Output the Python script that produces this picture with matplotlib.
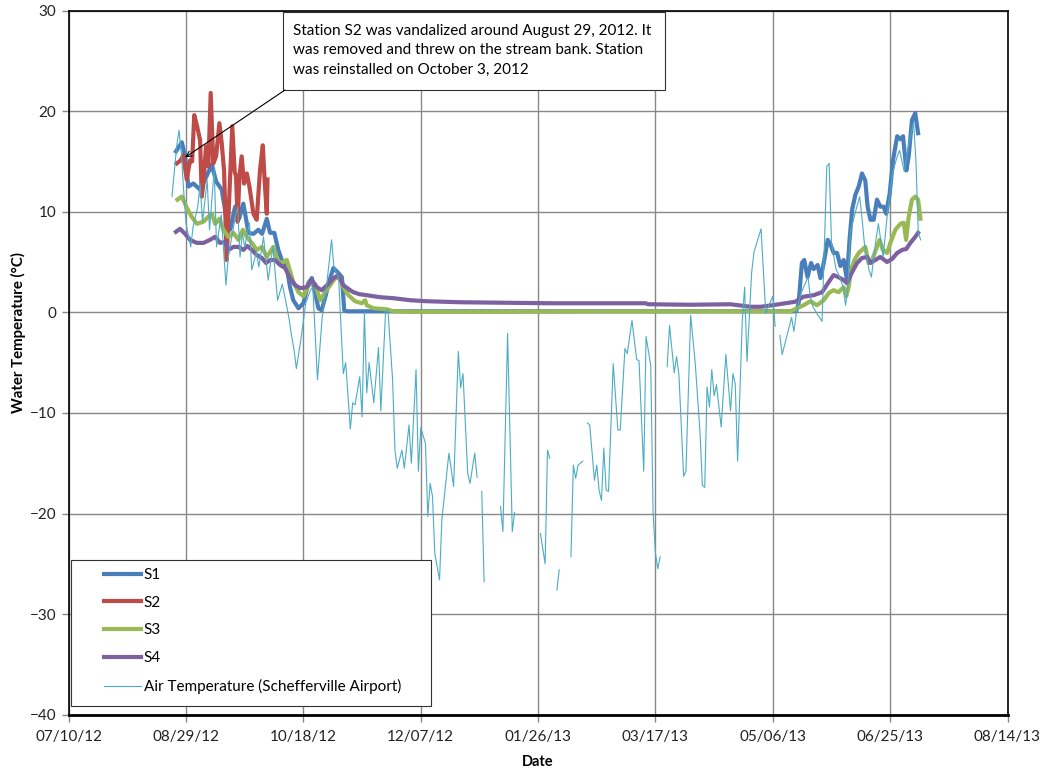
import numpy as np
import matplotlib
matplotlib.use('Agg')
import matplotlib.pyplot as plt
import matplotlib.dates as mdates
from matplotlib.patches import Rectangle

plt.rcParams['font.family'] = ['Lato', 'DejaVu Sans']

nan = np.nan

# all series use day numbers counted from 07/10/12
start = mdates.date2num(np.datetime64('2012-07-10'))

s1_day = [45.7, 48.2, 49.6, 51.0, 53.1, 56.0, 58.1, 61.0, 62.8, 65.2, 67.3, 68.8, 70.9,
          72.6, 74.4, 76.6, 78.7, 80.8, 82.4, 84.4, 85.8, 87.6, 89.3, 90.8, 92.9, 94.3,
          95.7, 97.9, 100.0, 102.1, 103.6, 105.0, 106.4, 107.8, 109.3, 111.4, 112.8,
          114.9, 116.4, 117.4, 118.5, 310.0, 311.0, 312.4, 313.4, 314.8, 316.3, 317.4,
          319.1, 320.3, 321.7, 323.4, 324.5, 325.9, 327.4, 328.8, 330.2, 331.6, 332.7,
          333.8, 335.2, 336.6, 338.0, 339.4, 340.4, 341.6, 343.0, 344.4, 345.8, 347.2,
          348.3, 349.8, 351.2, 353.0, 354.4, 355.5, 356.9, 357.9, 359.3, 360.7, 361.9]
s1_temp = [16.0, 16.9, 15.5, 12.5, 12.8, 12.2, 13.2, 14.7, 13.0, 12.2, 9.2, 8.2, 10.5,
           9.3, 10.8, 7.9, 7.8, 8.2, 7.8, 9.3, 7.9, 7.9, 6.2, 5.2, 4.5, 2.5,
           1.2, 0.4, 0.9, 2.9, 3.4, 1.9, 0.4, 0.2, 1.5, 3.4, 4.4,
           3.9, 3.5, 0.2, 0.1, 0.1, 0.9, 4.9, 5.2, 3.5, 4.9, 4.3,
           4.7, 3.4, 4.9, 7.2, 6.8, 5.9, 5.9, 4.6, 5.2, 3.2, 7.2,
           10.2, 11.7, 12.5, 13.8, 13.1, 10.5, 9.2, 9.2, 11.2, 10.5, 10.5,
           9.8, 11.8, 15.1, 17.5, 17.2, 17.5, 14.1, 15.5, 19.1, 19.8, 17.8]

s2_day = [46.0, 47.7, 48.8, 50.3, 51.7, 52.6, 53.5, 54.7, 56.0, 56.7, 57.4, 58.5, 59.5,
          60.5, 61.6, 62.8, 64.2, 65.2, 66.2, 67.3, 68.0, 69.7, 70.7, 71.3, 72.0, 72.7,
          73.7, 74.7, 75.9, 77.0, 78.7, 80.1, 81.5, 82.7, 83.5, 84.4, 84.7]
s2_temp = [14.8, 15.1, 15.6, 13.2, 15.1, 15.0, 19.6, 18.5, 17.1, 11.5, 12.8, 16.5, 14.5,
           21.8, 14.8, 15.5, 18.8, 16.8, 14.1, 5.2, 9.2, 18.5, 14.0, 13.5, 9.0, 13.4,
           15.5, 12.8, 13.8, 12.5, 9.8, 9.2, 14.1, 16.6, 13.0, 9.8, 13.2]

s3_day = [46.3, 48.2, 50.3, 52.4, 54.6, 57.4, 59.5, 61.0, 62.4, 64.2, 65.9, 68.0, 70.2,
          72.3, 74.2, 75.9, 78.0, 80.1, 82.3, 84.4, 87.2, 89.3, 91.5, 92.9, 95.7, 97.9,
          100.0, 102.9, 105.0, 107.1, 109.3, 111.4, 113.5, 115.6, 117.0, 119.2, 122.0,
          124.9, 126.3, 127.0, 129.8, 135.5, 138.4, 145.0, 307.5, 310.3, 313.1, 316.0,
          318.8, 321.7, 323.8, 325.9, 328.0, 330.2, 331.3, 332.3, 333.3, 334.8, 336.6,
          338.0, 339.4, 340.8, 342.3, 344.4, 345.5, 346.9, 348.7, 350.1, 352.2, 354.4,
          355.8, 356.8, 357.9, 359.3, 360.7, 361.9, 362.9]
s3_temp = [11.2, 11.5, 10.4, 9.5, 8.8, 9.0, 9.5, 9.8, 8.8, 9.3, 8.2, 7.5, 7.9,
           7.2, 8.2, 7.5, 6.9, 6.2, 6.5, 5.5, 6.5, 4.9, 5.0, 5.2, 3.0, 2.0,
           1.6, 3.0, 2.8, 1.2, 2.0, 2.7, 3.4, 3.4, 2.5, 1.7, 1.1,
           0.9, 1.2, 0.7, 0.4, 0.3, 0.1, 0.05, 0.1, 0.4, 0.7, 1.1,
           0.7, 1.2, 1.9, 2.2, 2.0, 2.5, 1.6, 2.5, 4.2, 5.2, 5.9,
           6.2, 6.5, 4.9, 5.2, 6.5, 7.2, 6.2, 5.9, 6.9, 8.2, 8.8,
           8.9, 7.2, 9.5, 11.2, 11.5, 11.2, 9.3]

s4_day = [45.7, 47.4, 49.6, 51.7, 54.6, 57.4, 60.2, 62.4, 64.5, 66.6, 68.0, 70.2, 72.3,
          74.4, 76.1, 78.0, 80.1, 82.3, 84.1, 85.8, 87.9, 90.1, 92.2, 94.3, 96.5, 98.6,
          101.4, 103.6, 105.7, 107.8, 110.1, 112.8, 114.9, 117.0, 119.9, 121.3, 123.9,
          127.0, 132.7, 138.4, 145.5, 152.6, 159.7, 166.8, 205.2, 245.7, 247.0, 265.0,
          282.0, 290.5, 294.8, 299.8, 309.6, 313.1, 317.4, 321.0, 323.8, 325.9, 327.9,
          330.2, 331.6, 333.8, 335.9, 338.0, 340.2, 341.6, 343.7, 345.8, 348.7, 350.8,
          353.0, 355.1, 356.9, 358.6, 360.7, 361.9]
s4_temp = [8.0, 8.3, 7.8, 7.2, 6.9, 6.9, 7.2, 7.5, 6.9, 7.0, 6.2, 6.5, 6.5,
           6.2, 6.6, 6.2, 5.7, 5.4, 4.9, 5.2, 5.2, 4.7, 4.4, 3.4, 2.7, 2.4,
           2.5, 3.2, 2.5, 2.2, 2.7, 3.4, 3.7, 2.7, 2.2, 2.0, 1.8,
           1.7, 1.5, 1.4, 1.2, 1.1, 1.05, 1.0, 0.9, 0.9, 0.8, 0.75,
           0.8, 0.55, 0.55, 0.7, 1.05, 1.55, 1.7, 2.0, 3.0, 3.7, 3.5,
           3.2, 2.9, 4.0, 4.9, 5.4, 5.5, 4.9, 5.2, 5.5, 5.0, 5.3,
           5.9, 6.2, 6.3, 6.9, 7.5, 7.9]

# daily air temperature, nan where the airport record has holes
air_day = [44, 46, 47, 48, 49, 50, 52, 53, 55, 56,
           57, 59, 60, 62, 63, 65, 66, 67, 68, 70,
           71, 72, 73, 74, 75, 77, 78, 80, 81, 83,
           85, 87, 89, 91, 93, 94, 95, 96, 97, 99,
           101, 103, 104, 106, 108, 110, 112, 113, 115, 117,
           118, 120, 121, 122, 124, 125, 126, 127, 128, 130,
           132, 133, 135, 136, 138, 139, 140, 142, 143, 145,
           146, 148, 149, 150, 152, 153, 154, 155, 156, 158,
           159, 162, 164, 166, 167, 168, 170, 171, 173, 174,
           175, 176, 177, 178, 184, 185, 187, 189, 190, 191,
           201, 203, 204, 205, 206, 208, 209, 210, 214, 215,
           216, 217, 219, 220, 221, 222, 224, 225, 226, 227,
           228, 229, 230, 232, 234, 235, 237, 238, 240, 242,
           243, 245, 246, 248, 249, 250, 251, 252, 253, 255,
           256, 258, 259, 260, 262, 263, 265, 267, 269, 270,
           271, 272, 273, 274, 275, 276, 278, 280, 282, 283,
           284, 285, 287, 288, 289, 291, 292, 295, 297, 298,
           300, 301, 302, 303, 304, 307, 308, 309, 310, 312,
           315, 316, 317, 319, 321, 323, 324, 325, 327, 328,
           330, 331, 332, 333, 335, 337, 338, 339, 341, 342,
           344, 345, 347, 349, 351, 353, 354, 356, 358, 360,
           361, 362, 363]
air_temp = [11.5, 16.5, 18.1, 15.8, 12.0, 8.8, 6.5, 8.5, 10.5, 12.8,
            9.0, 13.1, 8.2, 14.2, 6.5, 9.7, 6.2, 2.7, 5.5, 8.2,
            9.5, 10.5, 5.5, 7.9, 6.5, 8.9, 4.2, 6.0, 4.5, 7.5,
            3.2, 6.5, 1.2, 2.8, 0.5, -0.8, -2.4, -3.7, -5.6, -2.6,
            0.9, 2.2, 2.5, -6.7, -0.5, 2.9, 7.2, 4.5, 3.5, -6.1,
            -5.0, -11.6, -9.0, -9.2, -6.4, -10.4, 0.0, -8.0, -5.0, -9.0,
            -3.5, -9.8, 0.0, 0.3, -6.7, -13.7, -15.5, -13.7, -15.5, -11.2,
            -15.0, -5.7, -15.8, -11.5, -13.0, -20.3, -17.0, -18.3, -24.0, -26.6,
            -20.6, -14.0, -17.3, -3.9, -7.5, -6.1, -16.0, -17.0, -14.0, -16.4,
            nan, -17.8, -26.8, nan, -19.3, -21.8, -2.1, -21.8, -19.9, nan,
            -22.0, -25.0, -13.7, -14.5, nan, -27.6, -25.6, nan, -24.3, -15.2,
            -16.5, -15.2, -14.8, nan, -11.0, -11.2, -16.7, -15.2, -17.7, -18.7,
            -13.5, -17.7, -17.8, -5.1, -11.7, -11.7, -3.6, -4.1, -0.8, -4.7,
            -4.8, -15.8, -2.4, -5.3, -20.0, -24.0, -25.5, -24.3, nan, -5.4,
            -1.3, -6.0, -4.4, -6.2, -16.3, -15.8, -0.3, -5.2, -12.0, -17.2,
            -17.4, -7.4, -9.4, -5.7, -8.3, -7.2, -11.4, -4.2, -9.8, -6.1,
            -7.1, -14.8, -0.8, 2.5, -4.9, 4.0, 6.0, 8.3, -0.1, 0.5,
            1.6, -1.4, nan, -2.3, -4.2, -1.4, -0.5, -1.9, -0.1, 1.9,
            3.5, 1.5, 0.6, -0.2, -0.9, 14.5, 14.8, 6.9, 4.2, 3.8,
            2.5, 0.7, 2.5, 7.9, 9.8, 11.5, 9.4, 6.9, 4.2, 3.5,
            7.3, 8.8, 5.5, 10.2, 13.8, 15.5, 16.1, 14.0, 16.8, 18.8,
            15.0, 7.9, 7.2]

tick_days = [0, 50, 100, 150, 200, 250, 300, 350, 400]
y_ticks = [-40, -30, -20, -10, 0, 10, 20, 30]

note = ("Station S2 was vandalized around August 29, 2012. It\n"
        "was removed and threw on the stream bank. Station\n"
        "was reinstalled on October 3, 2012")

W, H = 1044, 769
fig = plt.figure(figsize=(W / 100, H / 100), dpi=100)
ax = fig.add_axes([68.7 / W, 1 - 714.7 / H, (1007.5 - 68.7) / W, (714.7 - 10.5) / H])

series = [
    (s1_day, s1_temp, 'S1', '#4A7EBB', 3.0),
    (s2_day, s2_temp, 'S2', '#BE4B48', 3.0),
    (s3_day, s3_temp, 'S3', '#98B954', 3.0),
    (s4_day, s4_temp, 'S4', '#7D60A0', 3.0),
    (air_day, air_temp, 'Air Temperature (Schefferville Airport)', '#4BACC6', 0.8),
]
for day, temp, label, color, lw in series:
    ax.plot(start + np.array(day, dtype=float), temp, color=color, lw=lw,
            label=label, solid_joinstyle='round', zorder=3)

ax.set_xlim(start + tick_days[0], start + tick_days[-1])
ax.set_ylim(-40, 30)
ax.set_xticks([start + d for d in tick_days])
ax.xaxis.set_major_formatter(mdates.DateFormatter('%m/%d/%y'))
ax.set_yticks(y_ticks)
ax.grid(True, color='#888888', lw=1.0, zorder=0)
ax.tick_params(axis='both', direction='out', length=5, width=1, color='#888888',
               labelsize=11, labelcolor='#222222', pad=4)
ax.tick_params(axis='x', pad=6)
for side in ['top', 'right', 'left']:
    ax.spines[side].set_color('black')
    ax.spines[side].set_linewidth(1.2)
ax.spines['bottom'].set_color('black')
ax.spines['bottom'].set_linewidth(2.0)

ax.set_xlabel('Date', fontsize=10.5, fontweight='bold', labelpad=8)
ax.set_ylabel('Water Temperature (°C)', fontsize=10.8, fontweight='bold')
ax.yaxis.set_label_coords(-0.046, 0.542)

# note about the vandalized station, arrow pointing at the S2 trace
note_box = Rectangle((283 / W, 1 - 90 / H), (665 - 283) / W, (90 - 12) / H,
                     transform=fig.transFigure, fc='white', ec='#333333', lw=0.8,
                     zorder=6, clip_on=False)
ax.add_patch(note_box)
ax.text(293 / W, 1 - 24 / H, note, transform=fig.transFigure, ha='left', va='top',
        fontsize=11, linespacing=1.5, zorder=7)
ax.annotate('', xy=(start + 49.6, 15.4), xycoords='data',
            xytext=(285 / W, 1 - 90 / H), textcoords='figure fraction',
            arrowprops=dict(arrowstyle='->', color='black', lw=0.8,
                            shrinkA=0, shrinkB=0),
            zorder=6)

# legend box in the lower left corner
box = Rectangle((71 / W, 1 - 706 / H), (431 - 71) / W, (706 - 560) / H,
                transform=fig.transFigure, fc='white', ec='#333333', lw=0.8,
                zorder=5, clip_on=False)
ax.add_patch(box)
leg = ax.legend(loc='upper left', bbox_to_anchor=(104 / W, 1 - 568 / H),
                bbox_transform=fig.transFigure, frameon=False, fontsize=11,
                handlelength=2.45, handletextpad=0.15, labelspacing=0.9,
                borderpad=0, borderaxespad=0)
leg.set_zorder(7)

fig.savefig('out.png', dpi=100)
